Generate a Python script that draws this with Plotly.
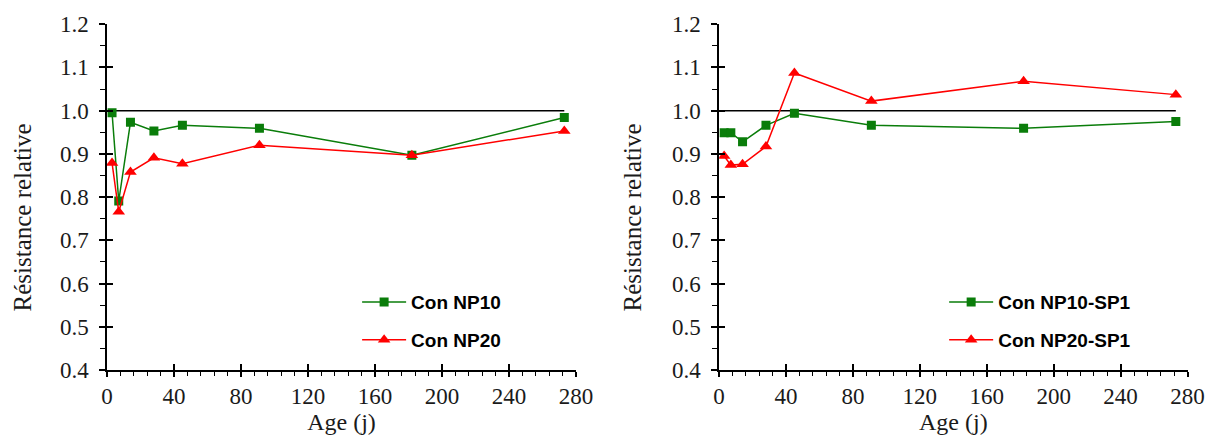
import plotly.graph_objects as go

# ---- data ----
ages = [3, 7, 14, 28, 45, 91, 182, 273]
con_np10 = [0.995, 0.791, 0.973, 0.953, 0.966, 0.959, 0.897, 0.984]
con_np20 = [0.879, 0.766, 0.858, 0.891, 0.877, 0.920, 0.897, 0.953]
con_np10_sp1 = [0.949, 0.949, 0.928, 0.966, 0.994, 0.966, 0.959, 0.975]
con_np20_sp1 = [0.895, 0.874, 0.876, 0.917, 1.087, 1.022, 1.068, 1.037]
ref_x = [0, 273]
ref_y = [1.0, 1.0]

GREEN = "#0a7d0a"
RED = "#ff0000"
SERIF = "Liberation Serif, Times New Roman, serif"
SANS = "Liberation Sans, Arial, sans-serif"
TXT = "#1a1a1a"

fig = go.Figure()

# reference lines
fig.add_trace(go.Scatter(x=ref_x, y=ref_y, mode="lines", line=dict(color="black", width=1.5),
                         showlegend=False, hoverinfo="skip", xaxis="x", yaxis="y"))
fig.add_trace(go.Scatter(x=ref_x, y=ref_y, mode="lines", line=dict(color="black", width=1.5),
                         showlegend=False, hoverinfo="skip", xaxis="x2", yaxis="y2"))

def series(x, y, name, color, symbol, size, xa, ya, leg, grp):
    return go.Scatter(x=x, y=y, name=name, mode="lines+markers",
                      line=dict(color=color, width=1.5),
                      marker=dict(color=color, symbol=symbol, size=size, line=dict(width=0)),
                      xaxis=xa, yaxis=ya, legend=leg, legendgroup=grp)

fig.add_trace(series(ages, con_np10, "Con NP10", GREEN, "square", 9, "x", "y", "legend", "a"))
fig.add_trace(series(ages, con_np20, "Con NP20", RED, "triangle-up", 11, "x", "y", "legend", "b"))
fig.add_trace(series(ages, con_np10_sp1, "Con NP10-SP1", GREEN, "square", 9, "x2", "y2", "legend2", "c"))
fig.add_trace(series(ages, con_np20_sp1, "Con NP20-SP1", RED, "triangle-up", 11, "x2", "y2", "legend2", "d"))

# empty helper traces so the overlay tick axes get drawn
for xa, ya in (("x3", "y3"), ("x4", "y4")):
    fig.add_trace(go.Scatter(x=[], y=[], xaxis=xa, yaxis=ya, showlegend=False, hoverinfo="skip"))

XR = [0, 280]
YR = [0.4, 1.2]
XD1 = [0.0875, 0.471]
XD2 = [0.588, 0.971]
YD = [0.157, 0.945]

xax = dict(range=XR, dtick=40, tick0=0, showgrid=False, zeroline=False,
           showline=True, linecolor="black", linewidth=1.5,
           ticks="outside", ticklen=5, tickwidth=1.5, tickcolor="black",
           minor=dict(dtick=8, tick0=0, ticks="outside", ticklen=4, tickcolor="black", tickwidth=1),
           tickfont=dict(family=SERIF, size=23, color=TXT),
           title=dict(text="Age (j)", font=dict(family=SERIF, size=24, color=TXT), standoff=2))
yax = dict(range=YR, dtick=0.1, tick0=0.4, tickformat=".1f", showgrid=False, zeroline=False,
           showline=True, linecolor="black", linewidth=1.5,
           ticks="outside", ticklen=6, tickwidth=1.5, tickcolor="black",
           minor=dict(dtick=0.05, tick0=0.4, ticks="outside", ticklen=5, tickcolor="black", tickwidth=1),
           tickfont=dict(family=SERIF, size=23, color=TXT), ticklabelstandoff=6)

# inner halves of the crossing major ticks
xin = dict(range=XR, dtick=40, tick0=0, showgrid=False, zeroline=False, showline=False,
           ticks="inside", ticklen=6, tickwidth=1.5, tickcolor="black", showticklabels=False)
yin = dict(range=YR, dtick=0.1, tick0=0.4, showgrid=False, zeroline=False, showline=False,
           ticks="inside", ticklen=6, tickwidth=1.5, tickcolor="black", showticklabels=False)

legfont = dict(family=SANS, size=19, color="black", weight="bold")
ytitle = dict(text="Résistance relative", font=dict(family=SERIF, size=25, color=TXT),
              textangle=-90, showarrow=False, xref="paper", yref="paper",
              xanchor="center", yanchor="middle", y=0.5046)
fig.update_layout(
    width=1223, height=439,
    margin=dict(l=0, r=0, t=0, b=0),
    paper_bgcolor="white", plot_bgcolor="white",
    template="none",
    xaxis=dict(domain=XD1, anchor="y", **xax),
    yaxis=dict(domain=YD, anchor="x", **yax),
    xaxis2=dict(domain=XD2, anchor="y2", **xax),
    yaxis2=dict(domain=YD, anchor="x2", **yax),
    xaxis3=dict(domain=XD1, anchor="y", overlaying="x", **xin),
    yaxis3=dict(domain=YD, anchor="x", overlaying="y", **yin),
    xaxis4=dict(domain=XD2, anchor="y2", overlaying="x2", **xin),
    yaxis4=dict(domain=YD, anchor="x2", overlaying="y2", **yin),
    legend=dict(x=0.292, y=0.355, xanchor="left", yanchor="top", font=legfont,
                bgcolor="rgba(0,0,0,0)", itemwidth=44, tracegroupgap=10, traceorder="grouped"),
    legend2=dict(x=0.772, y=0.355, xanchor="left", yanchor="top", font=legfont,
                 bgcolor="rgba(0,0,0,0)", itemwidth=44, tracegroupgap=10, traceorder="grouped"),
    annotations=[dict(ytitle, x=0.018), dict(ytitle, x=0.5168)],
    showlegend=True,
)

fig.write_html("out.html")
